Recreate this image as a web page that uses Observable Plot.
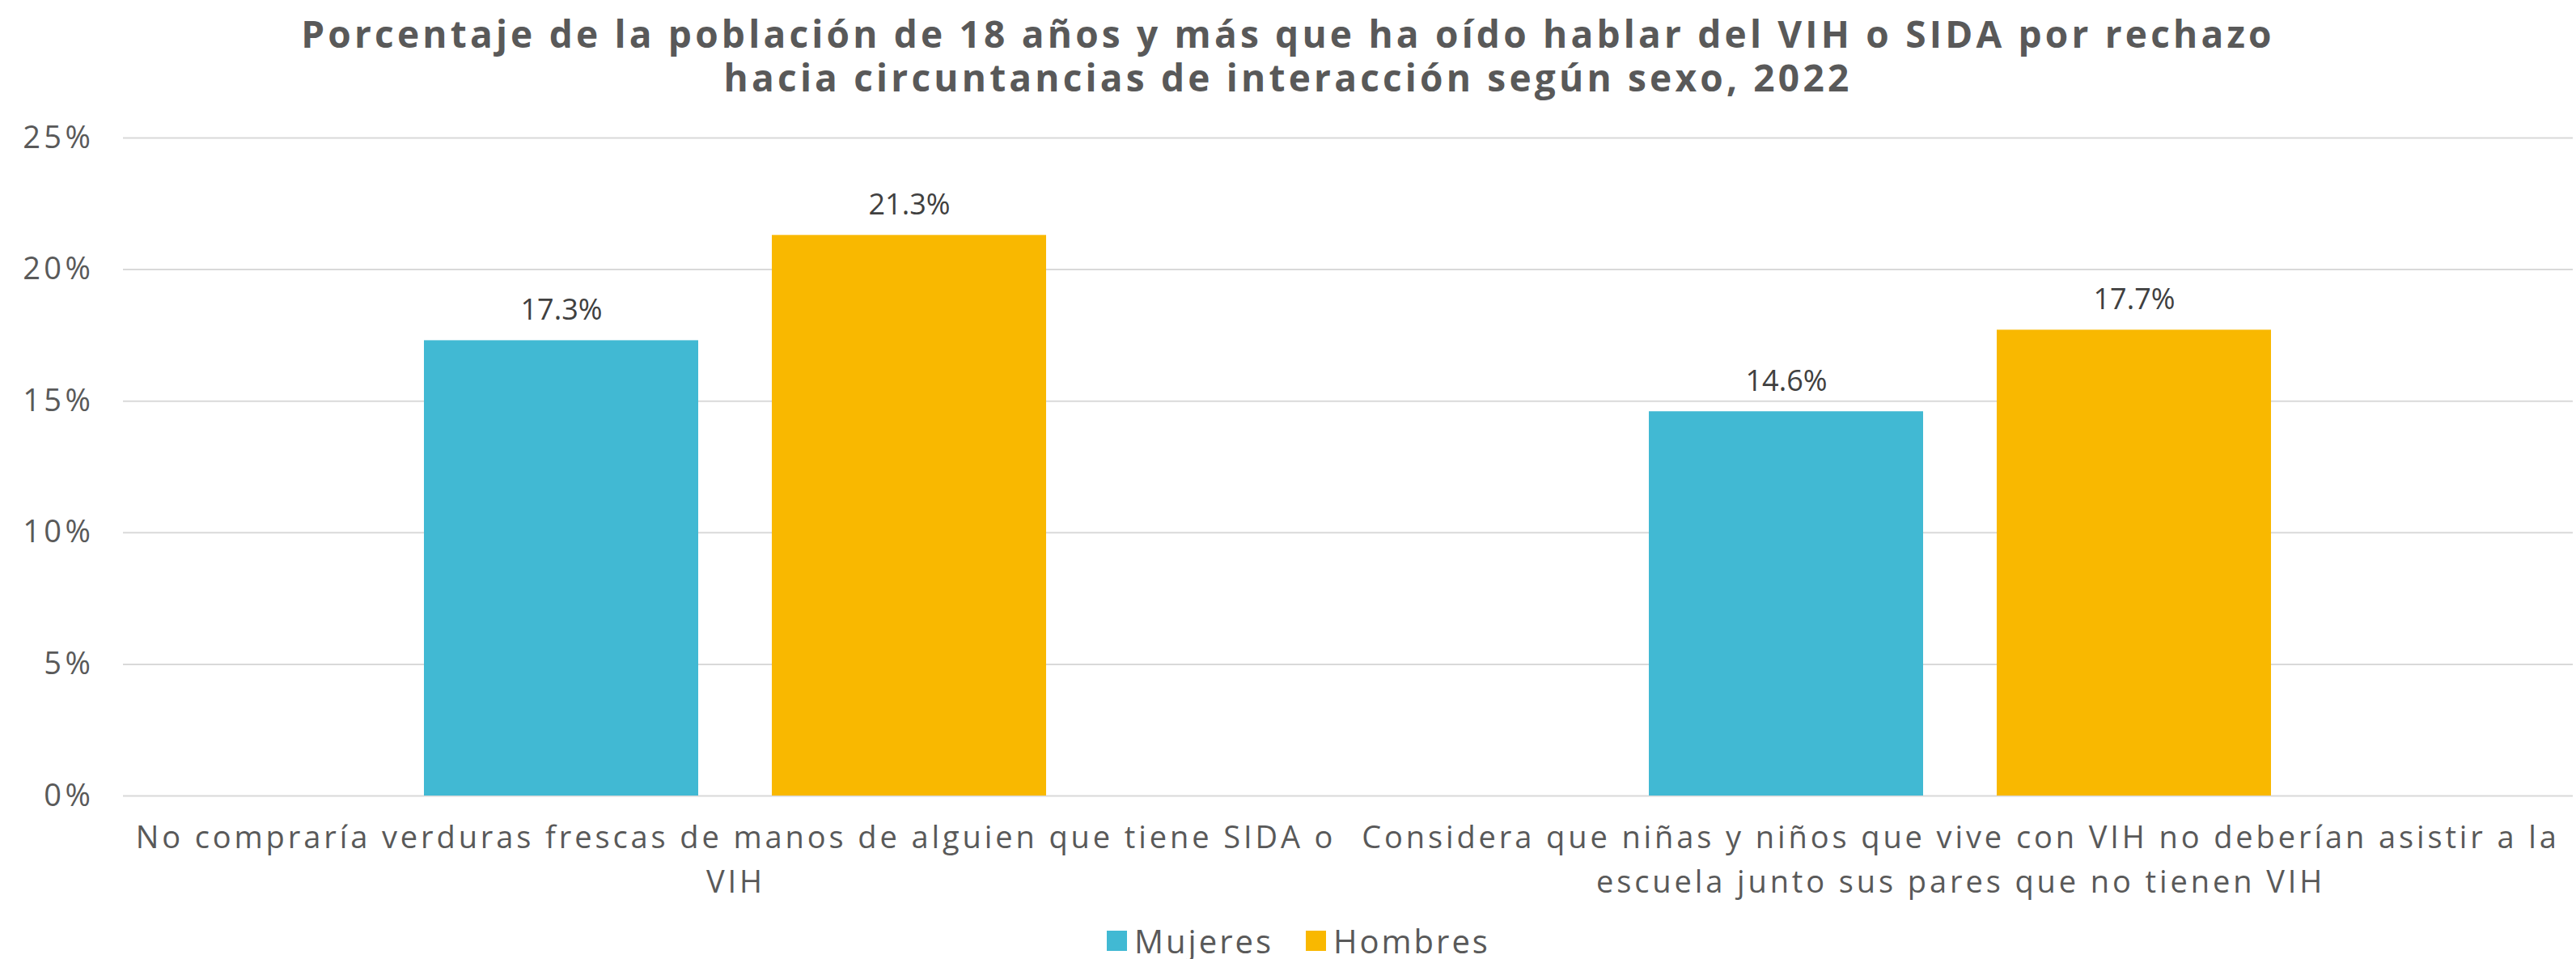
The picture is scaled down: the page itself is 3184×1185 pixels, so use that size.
<!DOCTYPE html>
<html><head><meta charset="utf-8">
<script src="https://cdn.jsdelivr.net/npm/d3@7"></script>
<script src="https://cdn.jsdelivr.net/npm/@observablehq/plot@0.6"></script>
<style>
body{margin:0;background:#fff;font-family:"Open Sans",sans-serif;}
#title{width:3184px;height:140px;box-sizing:border-box;padding-top:14px;text-align:center;font-weight:700;font-size:46px;letter-spacing:4.2px;line-height:54px;color:#595959;}
#legend{width:3184px;height:55px;display:flex;justify-content:center;align-items:center;font-size:40px;letter-spacing:3px;color:#595959;padding-top:10px;padding-left:26px;box-sizing:border-box;}
.item{display:flex;align-items:center;margin:0 40px 0 0;}
.item:last-child{margin-right:0;}
.sw{width:25px;height:25px;margin-right:9px;}
</style></head><body>
<div id="title">Porcentaje de la población de 18 años y más que ha oído hablar del VIH o SIDA por rechazo<br>hacia circuntancias de interacción según sexo, 2022</div>
<div id="chart"></div>
<div id="legend"></div>
<script>
const categories = ["No compraría verduras frescas de manos de alguien que tiene SIDA o VIH", "Considera que niñas y niños que vive con VIH no deberían asistir a la escuela junto sus pares que no tienen VIH"];
const categoryLabels = ["No compraría verduras frescas de manos de alguien que tiene SIDA o\nVIH", "Considera que niñas y niños que vive con VIH no deberían asistir a la\nescuela junto sus pares que no tienen VIH"];
const series = ["Mujeres", "Hombres"];
const mujeres = [17.3, 14.6];
const hombres = [21.3, 17.7];
const yTicks = [0, 5, 10, 15, 20, 25];
const colors = ["#41B9D3", "#F9B800"];

const rows = categories.flatMap((c, i) => [
  {cat: c, sex: series[0], value: mujeres[i]},
  {cat: c, sex: series[1], value: hombres[i]}
]);

const chart = Plot.plot({
  width: 3184, height: 990,
  marginTop: 30, marginBottom: 147, marginLeft: 152, marginRight: 4,
  style: {fontFamily: "Open Sans", fontSize: "36px", color: "#595959", background: "#fff"},
  fx: {domain: categories, padding: 0, axis: null},
  x: {domain: series, paddingInner: 0.2116, paddingOuter: 0.866, axis: null},
  y: {domain: [0, 25], axis: null},
  color: {domain: series, range: colors},
  marks: [
    Plot.ruleY(yTicks, {stroke: "#d9d9d9", strokeWidth: 2}),
    Plot.barY(rows, {fx: "cat", x: "sex", y: "value", fill: "sex"}),
    Plot.text(rows, {fx: "cat", x: "sex", y: "value", text: d => d.value.toFixed(1) + "%", dy: -37, fill: "#404040", fontSize: 36, style: "letter-spacing:1px"}),
    Plot.axisY({ticks: yTicks, tickSize: 0, tickPadding: 36, tickFormat: d => d + "%", fontSize: 38, fill: "#595959", label: null}),
    Plot.axisFx({anchor: "bottom", tickSize: 0, tickPadding: 25, tickFormat: d => categoryLabels[categories.indexOf(d)], lineHeight: 1.45, fontSize: 38, fill: "#595959", label: null})
  ]
});
chart.querySelectorAll("g[aria-label='y-axis tick label'] text").forEach(t => t.style.letterSpacing = "4.5px");
chart.querySelectorAll("g[aria-label='fx-axis tick label'] text").forEach(t => t.style.letterSpacing = "3.9px");
document.getElementById("chart").appendChild(chart);

const legend = document.getElementById("legend");
series.forEach((s, i) => {
  const it = document.createElement("div");
  it.className = "item";
  const sw = document.createElement("div");
  sw.className = "sw";
  sw.style.background = colors[i];
  const t = document.createElement("span");
  t.textContent = s;
  it.appendChild(sw); it.appendChild(t);
  legend.appendChild(it);
});
</script>
</body></html>
